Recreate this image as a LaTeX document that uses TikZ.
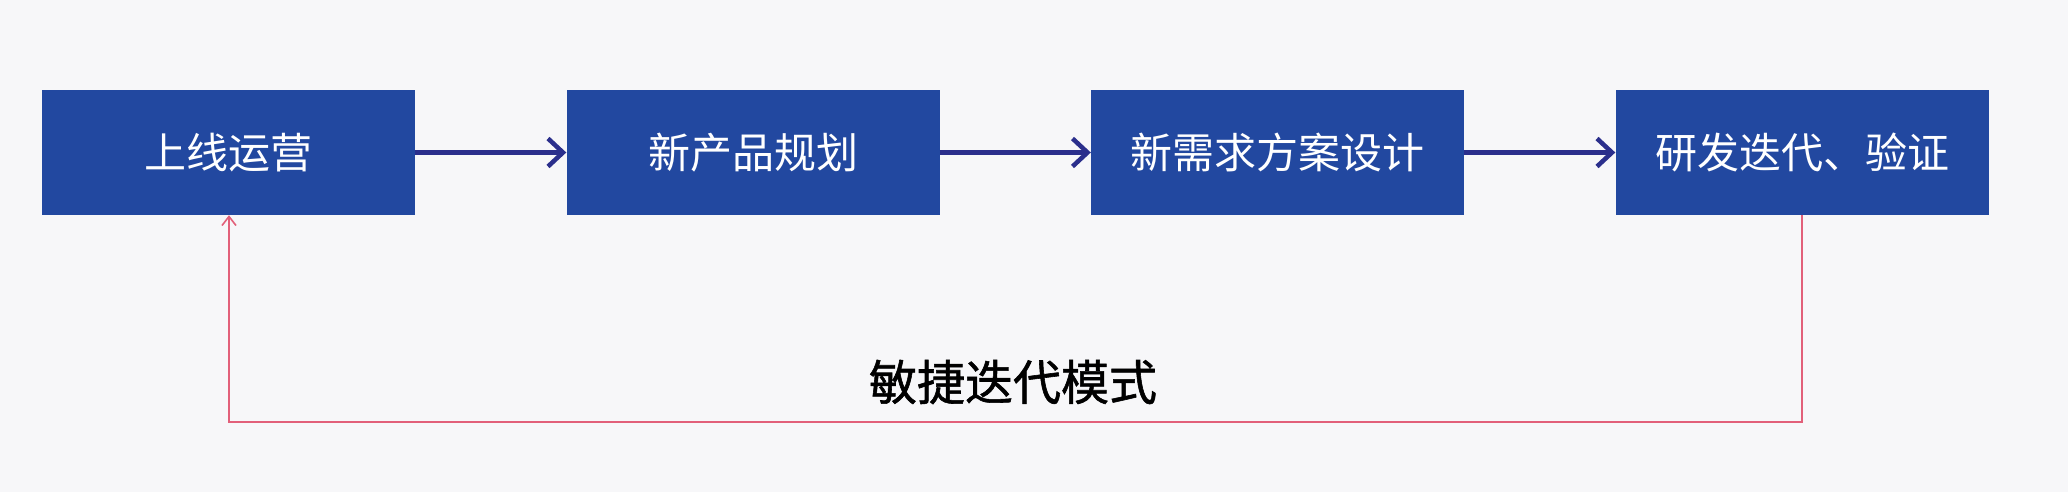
\documentclass[tikz,border=0pt]{standalone}
\usepackage{fontspec}
\newfontfamily\cjk{Noto Sans CJK SC}
\newfontfamily\cjkmed[FakeBold=1.2]{Noto Sans CJK SC}
\usetikzlibrary{arrows.meta}
\definecolor{boxblue}{RGB}{34,72,160}
\definecolor{arrownavy}{RGB}{43,47,140}
\definecolor{fbpink}{RGB}{226,96,122}
\definecolor{bg}{RGB}{247,247,249}
\begin{document}
\begin{tikzpicture}[x=1pt,y=-1pt,
  stagebox/.style={fill=boxblue,draw=none,minimum width=373pt,minimum height=125pt,inner sep=0pt,
    text=white,font=\cjk\fontsize{42}{50}\selectfont},
  flow/.style={draw=arrownavy,line width=5.5pt,-{Straight Barb[length=15pt,width=28pt,line width=4.5pt]}},
  feedback/.style={draw=fbpink,line width=2pt,-{Straight Barb[length=9pt,width=14pt,line width=1.6pt]}}]
\fill[bg] (0,0) rectangle (2068,492);
\useasboundingbox (0,0) rectangle (2068,492);
\node[stagebox] (a) at (228.5,152.5) {上线运营};
\node[stagebox] (b) at (753,152.5) {新产品规划};
\node[stagebox] (c) at (1277.5,152.5) {新需求方案设计};
\node[stagebox] (d) at (1802,152.5) {研发迭代、验证};
\draw[flow] (a.east) -- (b.west);
\draw[flow] (b.east) -- (c.west);
\draw[flow] (c.east) -- (d.west);
\coordinate (fr) at (1802,422);
\coordinate (fl) at (229,422);
\draw[feedback] (d.south) -- (fr) -- (fl) -- (a.south -| fl);
\node[font=\cjkmed\fontsize{48}{56}\selectfont,text=black] (lbl) at (1013,382) {敏捷迭代模式};
\end{tikzpicture}
\end{document}
